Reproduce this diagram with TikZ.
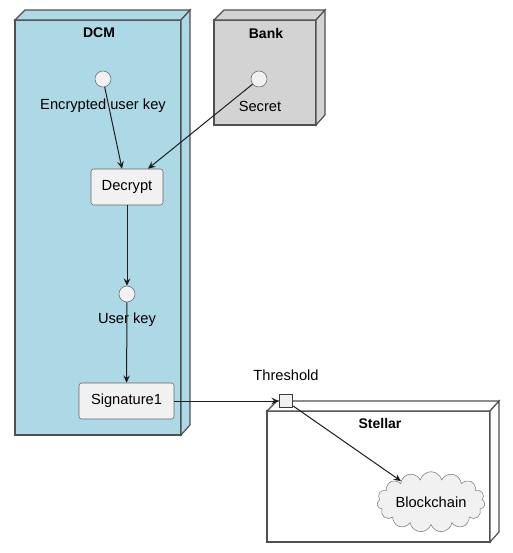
\documentclass[tikz,border=0pt]{standalone}
\usepackage{fontspec}
\setmainfont{Liberation Sans}
\usetikzlibrary{positioning, arrows.meta, shapes.symbols}

\begin{document}
\begin{tikzpicture}[
  x=0.75pt, y=-0.75pt,
  every node/.style={font=\fontsize{11}{13}\selectfont},
  boxline/.style={draw={rgb,255:red,80;green,80;blue,80}, line width=0.9pt},
  dcmface/.style={boxline, fill={rgb,255:red,173;green,216;blue,230}},
  bankface/.style={boxline, fill={rgb,255:red,211;green,211;blue,211}},
  stellarface/.style={boxline, fill=white},
  titlenode/.style={font=\fontsize{10.5}{12}\selectfont\bfseries},
  keynode/.style={circle, draw={rgb,255:red,102;green,102;blue,102}, fill={rgb,255:red,241;green,241;blue,241}, minimum size=12pt, inner sep=0pt},
  opnode/.style={rectangle, rounded corners=2pt, draw={rgb,255:red,102;green,102;blue,102}, fill={rgb,255:red,241;green,241;blue,241}, minimum height=27pt},
  portnode/.style={rectangle, draw={rgb,255:red,60;green,60;blue,60}, line width=1.1pt, fill={rgb,255:red,241;green,241;blue,241}, minimum size=9.75pt, inner sep=0pt},
  cloudnode/.style={cloud, cloud puffs=15, aspect=2.2, draw={rgb,255:red,120;green,120;blue,120}, fill={rgb,255:red,241;green,241;blue,241}, minimum width=81pt, minimum height=36pt, inner sep=0pt},
  flow/.style={-{Stealth[length=5.5pt, width=5pt, inset=2pt]}, draw={rgb,255:red,30;green,30;blue,30}, line width=0.75pt}
]
  \useasboundingbox (0,0) rectangle (513,553);

  % DCM
  \draw[dcmface] (15,20) rectangle (181,435);
  \draw[dcmface] (15,20) -- (25,10) -- (190,10) -- (181,20) -- cycle;
  \draw[dcmface] (181,20) -- (190,10) -- (190,425) -- (181,435) -- cycle;
  \node[titlenode] (dcm) at (99,33) {DCM};

  % Bank
  \draw[bankface] (214,20) rectangle (316,125);
  \draw[bankface] (214,20) -- (224,10) -- (325,10) -- (316,20) -- cycle;
  \draw[bankface] (316,20) -- (325,10) -- (325,115) -- (316,125) -- cycle;
  \node[titlenode] (bank) at (266,33) {Bank};

  % Stellar
  \draw[stellarface] (267,411) rectangle (490,542);
  \draw[stellarface] (267,411) -- (277,401) -- (499,401) -- (490,411) -- cycle;
  \draw[stellarface] (490,411) -- (499,401) -- (499,532) -- (490,542) -- cycle;
  \node[titlenode] (stellar) at (380,423) {Stellar};

  % keys and operations
  \node[keynode] (enckey) at (103,79) {};
  \node (enckeylabel) at (103,106) {Encrypted user key};
  \node[keynode] (secret) at (259,79) {};
  \node (secretlabel) at (260,106) {Secret};
  \node[opnode, minimum width=54pt] (decrypt) at (127,187) {Decrypt};
  \node[keynode] (userkey) at (127,294) {};
  \node (userkeylabel) at (127,320) {User key};
  \node[opnode, minimum width=71.25pt] (sig) at (126.5,401) {Signature1};
  \node[portnode] (port) at (286,401) {};
  \node (portlabel) at (286,375) {Threshold};
  \node[cloudnode] (chain) at (431,502) {Blockchain};

  \draw[flow] (enckey) -- ([xshift=-3.75pt]decrypt.north);
  \draw[flow] (secret) -- ([xshift=15.75pt]decrypt.north);
  \draw[flow] (decrypt) -- (userkey);
  \draw[flow] (userkey) -- (sig);
  \draw[flow] (sig) -- (port);
  \draw[flow] (port) -- (chain);
\end{tikzpicture}
\end{document}
